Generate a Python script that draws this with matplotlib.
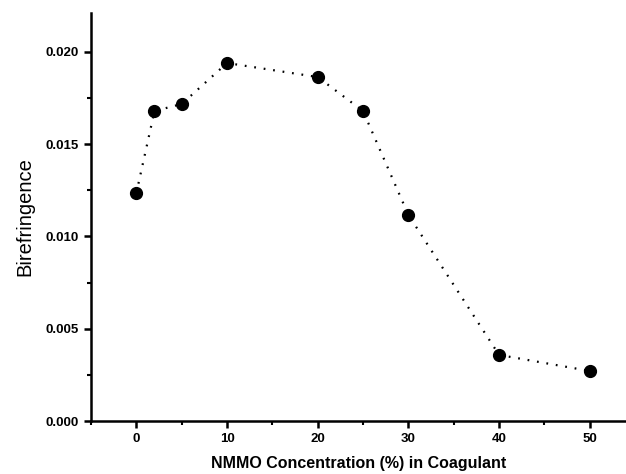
import matplotlib.pyplot as plt
from matplotlib.ticker import MultipleLocator

plt.rcParams["font.family"] = ["Liberation Sans", "DejaVu Sans"]

# NMMO concentration (%) in coagulant
nmmo = [0, 2, 5, 10, 20, 25, 30, 40, 50]
# birefringence
biref = [0.01235, 0.01679, 0.01717, 0.01939, 0.01863, 0.01679, 0.01116, 0.00358, 0.00271]

fig = plt.figure(figsize=(6.26, 4.74), dpi=100)
ax = fig.add_axes([0.1454, 0.1118, 0.8546, 0.8608])

ax.plot(nmmo, biref, color="black", linestyle=(0, (0.8, 3.5)), linewidth=1.6,
        marker="o", markersize=8.5)

ax.set_xlim(-5, 54)
ax.set_ylim(0, 0.0221)

ax.xaxis.set_major_locator(MultipleLocator(10))
ax.xaxis.set_minor_locator(MultipleLocator(5))
ax.yaxis.set_major_locator(MultipleLocator(0.005))
ax.yaxis.set_minor_locator(MultipleLocator(0.0025))
ax.yaxis.set_major_formatter(lambda v, pos: f"{v:.3f}")

for side in ["top", "right"]:
    ax.spines[side].set_visible(False)
for side in ["left", "bottom"]:
    ax.spines[side].set_linewidth(1.8)

ax.tick_params(which="major", direction="out", length=5, width=1.8, labelsize=9.5)
ax.tick_params(which="minor", direction="out", length=3, width=1.5)
ax.tick_params(axis="y", pad=4)
for lab in ax.get_xticklabels() + ax.get_yticklabels():
    lab.set_fontweight("bold")

ax.set_xlabel("NMMO Concentration (%) in Coagulant", fontsize=11.5,
              fontweight="bold", labelpad=8)
ax.set_ylabel("Birefringence", fontsize=14.5, labelpad=8)

fig.savefig("out.png", dpi=100)
